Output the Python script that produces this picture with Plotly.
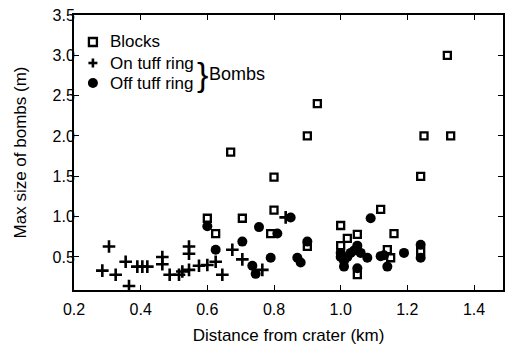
import plotly.graph_objects as go

# Blocks (open squares): distance from crater (km), max size (m)
blocks_x = [0.60, 0.625, 0.67, 0.705, 0.79, 0.80, 0.80, 0.90, 0.90, 0.93,
            1.00, 1.00, 1.02, 1.05, 1.05, 1.12, 1.14, 1.15, 1.16, 1.24,
            1.24, 1.25, 1.32, 1.33]
blocks_y = [0.98, 0.79, 1.80, 0.98, 0.79, 1.08, 1.49, 0.63, 2.00, 2.40,
            0.89, 0.64, 0.73, 0.78, 0.28, 1.09, 0.59, 0.49, 0.79, 0.57,
            1.50, 2.00, 3.00, 2.00]

# Bombs on the tuff ring (crosses)
on_x = [0.285, 0.305, 0.325, 0.355, 0.365, 0.39, 0.405, 0.42, 0.465, 0.465,
        0.487, 0.515, 0.525, 0.545, 0.545, 0.545, 0.575, 0.60, 0.625, 0.645,
        0.675, 0.705, 0.765, 0.835]
on_y = [0.33, 0.63, 0.28, 0.44, 0.14, 0.38, 0.38, 0.38, 0.50, 0.41,
        0.28, 0.28, 0.32, 0.34, 0.63, 0.54, 0.39, 0.40, 0.44, 0.28,
        0.59, 0.47, 0.34, 0.99]

# Bombs off the tuff ring (filled circles)
off_x = [0.60, 0.625, 0.705, 0.735, 0.745, 0.755, 0.79, 0.81, 0.85, 0.87,
         0.88, 0.90, 1.00, 1.00, 1.01, 1.01, 1.02, 1.03, 1.04, 1.05,
         1.05, 1.06, 1.08, 1.09, 1.12, 1.13, 1.14, 1.19, 1.24, 1.24]
off_y = [0.88, 0.59, 0.69, 0.39, 0.29, 0.87, 0.49, 0.79, 0.99, 0.49,
         0.43, 0.69, 0.55, 0.50, 0.45, 0.38, 0.50, 0.55, 0.58, 0.64,
         0.36, 0.55, 0.49, 0.98, 0.51, 0.52, 0.38, 0.55, 0.65, 0.49]

x_ticks = [0.2, 0.4, 0.6, 0.8, 1.0, 1.2, 1.4]
y_ticks = [0.5, 1.0, 1.5, 2.0, 2.5, 3.0, 3.5]

legend_labels = ["Blocks", "On tuff ring", "Off tuff ring"]
group_label = "Bombs"

FONT = "Liberation Sans, Arial, sans-serif"

# Plot-area geometry in pixels (used to place the key in paper units)
W, H = 508, 346
ML, MR, MT, MB = 74, 3, 15, 56
PW, PH = W - ML - MR, H - MT - MB


def px_x(px):
    return (px - ML) / PW


def px_y(py):
    return (H - MB - py) / PH


fig = go.Figure()
fig.add_trace(go.Scatter(
    x=blocks_x, y=blocks_y, mode="markers", name=legend_labels[0],
    marker=dict(symbol="square-open", size=7, color="black",
                line=dict(width=2.3, color="black")),
))
fig.add_trace(go.Scatter(
    x=on_x, y=on_y, mode="markers", name=legend_labels[1],
    marker=dict(symbol="cross-thin", size=9, color="black",
                line=dict(width=2.6, color="black")),
))
fig.add_trace(go.Scatter(
    x=off_x, y=off_y, mode="markers", name=legend_labels[2],
    marker=dict(symbol="circle", size=10, color="black",
                line=dict(width=0)),
))

axis_common = dict(
    showline=True, linecolor="black", linewidth=2, mirror="ticks",
    ticks="inside", ticklen=5, tickwidth=1.3, tickcolor="black",
    showgrid=False, zeroline=False,
    tickfont=dict(family=FONT, size=16, color="black"),
    tickformat=".1f",
)

fig.update_layout(
    width=W, height=H,
    margin=dict(l=ML, r=MR, t=MT, b=MB),
    paper_bgcolor="white", plot_bgcolor="white",
    font=dict(family=FONT, color="black"),
    xaxis=dict(range=[0.2, 1.487], tickvals=x_ticks, ticklabelstandoff=4,
               title=dict(text="Distance from crater (km)",
                          font=dict(family=FONT, size=17), standoff=12),
               **axis_common),
    yaxis=dict(range=[0.09, 3.5], tickvals=y_ticks, ticklabelstandoff=-6,
               title=dict(text="Max size of bombs (m)",
                          font=dict(family=FONT, size=17), standoff=22),
               **axis_common),
    showlegend=False,
)

# Key: symbols drawn as pixel-sized shapes anchored in the upper-left corner
key_x = px_x(93)
rows = [px_y(42), px_y(63), px_y(83)]
key_shapes = [
    dict(type="rect", xsizemode="pixel", ysizemode="pixel",
         xanchor=key_x, yanchor=rows[0], x0=-4, x1=4, y0=-4, y1=4,
         line=dict(color="black", width=2.3), fillcolor="white"),
    dict(type="line", xsizemode="pixel", ysizemode="pixel",
         xanchor=key_x, yanchor=rows[1], x0=-4.5, x1=4.5, y0=0, y1=0,
         line=dict(color="black", width=2.6)),
    dict(type="line", xsizemode="pixel", ysizemode="pixel",
         xanchor=key_x, yanchor=rows[1], x0=0, x1=0, y0=-4.5, y1=4.5,
         line=dict(color="black", width=2.6)),
    dict(type="circle", xsizemode="pixel", ysizemode="pixel",
         xanchor=key_x, yanchor=rows[2], x0=-5, x1=5, y0=-5, y1=5,
         line=dict(color="black", width=0), fillcolor="black"),
]
for s in key_shapes:
    fig.add_shape(xref="paper", yref="paper", **s)

for label, ry in zip(legend_labels, rows):
    fig.add_annotation(xref="paper", yref="paper", x=px_x(108), y=ry,
                       text=label, showarrow=False,
                       xanchor="left", yanchor="middle",
                       font=dict(family=FONT, size=17, color="black"))

# Brace grouping the two bomb entries
fig.add_annotation(xref="paper", yref="paper", x=px_x(203), y=px_y(74),
                   text="}", showarrow=False, xanchor="center", yanchor="middle",
                   font=dict(family=FONT, size=34, color="black"))
fig.add_annotation(xref="paper", yref="paper", x=px_x(208), y=px_y(74),
                   text=group_label, showarrow=False, xanchor="left",
                   yanchor="middle",
                   font=dict(family=FONT, size=18, color="black"))

fig.write_html("out.html")
